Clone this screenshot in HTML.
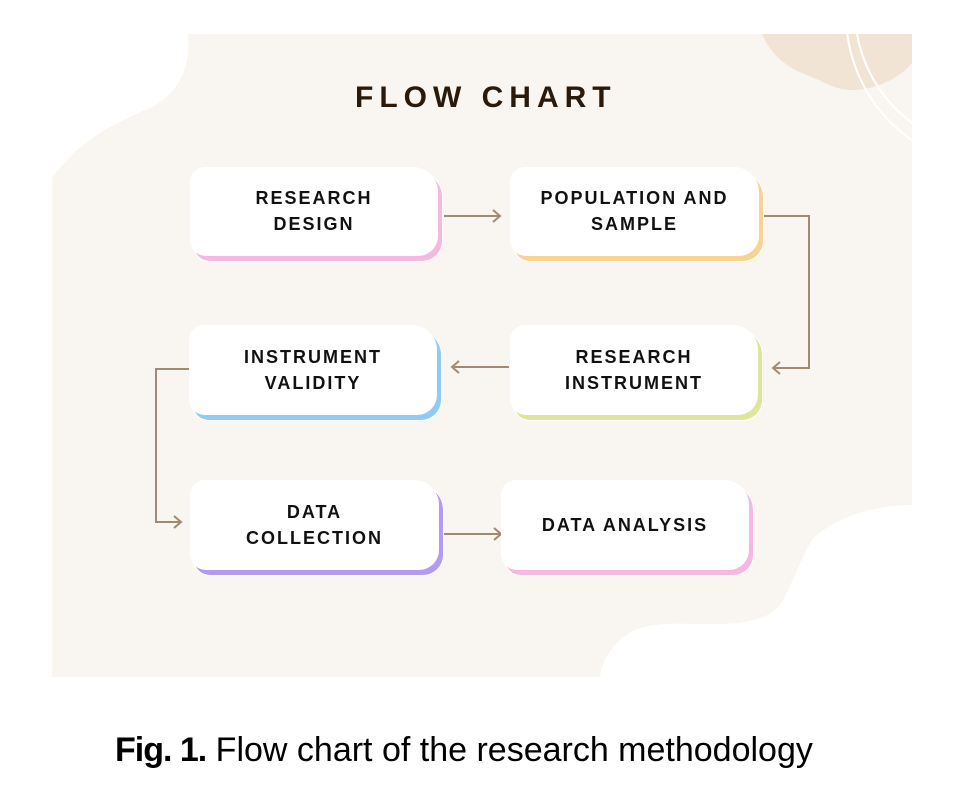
<!DOCTYPE html>
<html><head><meta charset="utf-8"><style>
html,body{margin:0;padding:0;background:#fff;}
body{width:972px;height:790px;position:relative;overflow:hidden;font-family:"Liberation Sans",Arial,sans-serif;}
svg.bg{position:absolute;left:0;top:0;}
.box{position:absolute;}
.box .sh,.box .wh{position:absolute;left:0;top:0;width:100%;height:100%;border-radius:15px 25px 20px 16px;}
.box .sh{left:4px;top:5px;box-shadow:0 0 0 1px #fff;}
.box .wh{background:#fff;display:flex;align-items:center;justify-content:center;text-align:center;
 font-weight:bold;font-size:18px;letter-spacing:2px;line-height:26px;color:#111;box-sizing:border-box;padding-bottom:1px;}
.title{position:absolute;left:355px;top:80px;font-size:30px;font-weight:bold;letter-spacing:6px;color:#2a1a0b;line-height:36px;white-space:nowrap;}
.cap{position:absolute;left:115px;top:730px;font-size:34px;line-height:40px;color:#000;white-space:nowrap;}
.cap b{letter-spacing:-1px;}
</style></head><body>
<svg class="bg" width="972" height="790" viewBox="0 0 972 790">
  <rect x="52" y="34" width="860" height="643" fill="#f9f5f0"/>
  <path d="M762,34 C768,50 785,68 807,75 C825,82 835,90 852,90 C875,90 900,78 912,63 L912,34 Z" fill="#f1e4d4"/>
  <path d="M40,20 L188,20 L188,34 C190,60 185,90 150,108 C110,125 80,140 52,178 L40,190 Z" fill="#fff"/>
  <path d="M912,505 C870,505 830,520 812,540 C800,560 790,590 780,605 C770,618 750,623 720,624 C690,625 660,620 635,630 C612,642 602,660 600,677 L912,677 Z" fill="#fff"/>
  <clipPath id="cp"><rect x="52" y="34" width="860" height="643"/></clipPath>
  <g clip-path="url(#cp)" fill="none" stroke="#fff" stroke-width="2">
    <circle cx="1000" cy="14" r="154"/>
    <circle cx="995" cy="10" r="140"/>
  </g>
  <g fill="none" stroke="#a08b70" stroke-width="2" stroke-linejoin="miter">
    <path d="M444,216 L499,216"/><path d="M493,210 L500,216 L493,222"/>
    <path d="M763,216 L809,216 L809,368 L774,368"/><path d="M780,362 L773,368 L780,374"/>
    <path d="M509,367 L453,367"/><path d="M459,361 L452,367 L459,373"/>
    <path d="M189,369 L156,369 L156,522 L180,522"/><path d="M174,516 L181,522 L174,528"/>
    <path d="M444,534 L500,534"/><path d="M494,528 L501,534 L494,540"/>
  </g>
</svg>

<div class="title">FLOW CHART</div>

<div class="box" style="left:190px;top:167px;width:248px;height:89px;"><div class="sh" style="background:#f5b9e1"></div><div class="wh">RESEARCH<br>DESIGN</div></div>
<div class="box" style="left:510px;top:167px;width:249px;height:89px;"><div class="sh" style="background:#f8d393"></div><div class="wh">POPULATION AND<br>SAMPLE</div></div>
<div class="box" style="left:510px;top:325px;width:248px;height:90px;"><div class="sh" style="background:#dde69a"></div><div class="wh">RESEARCH<br>INSTRUMENT</div></div>
<div class="box" style="left:189px;top:325px;width:248px;height:90px;"><div class="sh" style="background:#8fcbf5"></div><div class="wh">INSTRUMENT<br>VALIDITY</div></div>
<div class="box" style="left:190px;top:480px;width:249px;height:90px;"><div class="sh" style="background:#b39bf0"></div><div class="wh">DATA<br>COLLECTION</div></div>
<div class="box" style="left:501px;top:480px;width:248px;height:90px;"><div class="sh" style="background:#f5b9e1"></div><div class="wh">DATA ANALYSIS</div></div>

<div class="cap"><b>Fig. 1.</b> Flow chart of the research methodology</div>
</body></html>
